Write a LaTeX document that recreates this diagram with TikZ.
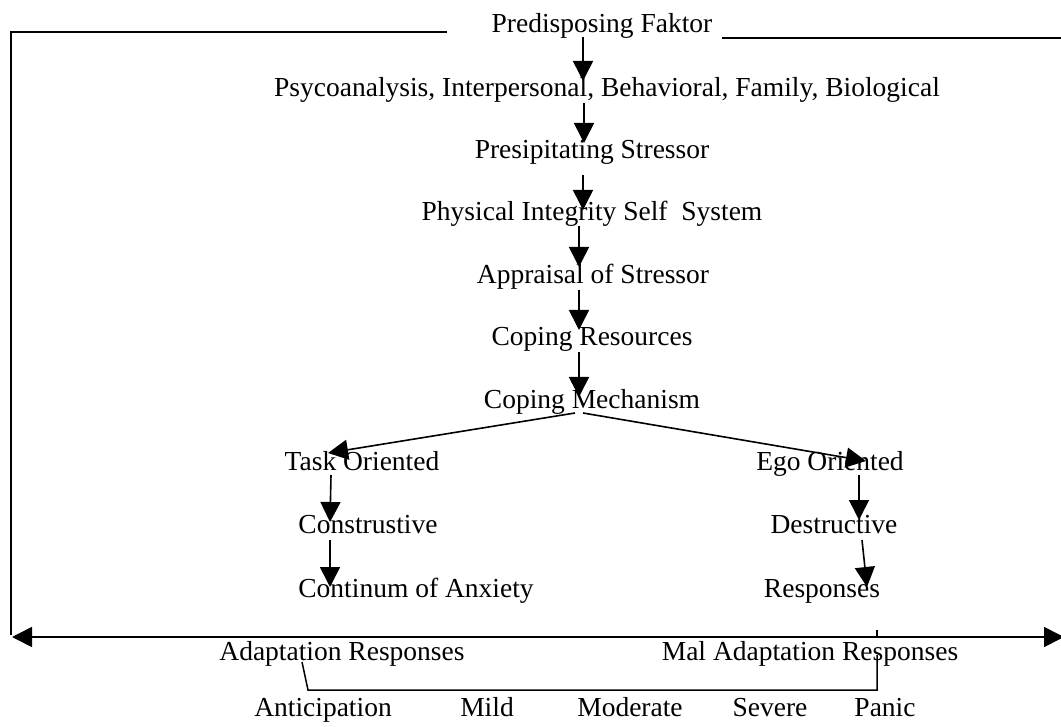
\documentclass[tikz,border=0pt]{standalone}
\usepackage{fontspec}
\setmainfont{Liberation Serif}
\usetikzlibrary{arrows.meta}
\tikzset{
  lbl/.style={anchor=base, inner sep=0pt, font=\fontsize{27.5}{33}\selectfont},
  arr/.style={line width=1.6pt, -{Triangle[width=20pt,length=20pt]}},
  ln/.style={line width=1.5pt},
  dbl/.style={line width=1.6pt, {Triangle[width=20pt,length=20pt]}-{Triangle[width=20pt,length=20pt]}}
}
\begin{document}
\begin{tikzpicture}[x=1pt,y=-1pt]
\useasboundingbox (0,0) rectangle (1061,727);
% nodes
\node[lbl] (pf)   at (602,33)  {Predisposing Faktor};
\node[lbl] (psy)  at (607,97)  {Psycoanalysis, Interpersonal, Behavioral, Family, Biological};
\node[lbl] (pre)  at (592,159) {Presipitating Stressor};
\node[lbl] (phy)  at (592,221) {Physical Integrity Self \ System};
\node[lbl] (app)  at (593,284) {Appraisal of Stressor};
\node[lbl] (cr)   at (592,346) {Coping Resources};
\node[lbl] (cm)   at (592,409) {Coping Mechanism};
\node[lbl] (task) at (362,470) {Task Oriented};
\node[lbl] (ego)  at (830,470) {Ego Oriented};
\node[lbl] (con)  at (368,533) {Construstive};
\node[lbl] (des)  at (834,533) {Destructive};
\node[lbl] (anx)  at (416,597) {Continum of Anxiety};
\node[lbl] (res)  at (822,597) {Responses};
\node[lbl] (ad)   at (342,660) {Adaptation Responses};
\node[lbl] (mal)  at (810,660) {Mal Adaptation Responses};
\node[lbl] (an1)  at (323,716) {Anticipation};
\node[lbl] (mild) at (487,716) {Mild};
\node[lbl] (mod)  at (630,716) {Moderate};
\node[lbl] (sev)  at (770,716) {Severe};
\node[lbl] (pan)  at (885,716) {Panic};
% frame coordinates
\coordinate (tlA) at (447,32);
\coordinate (tl)  at (11,32);
\coordinate (bl)  at (11,635);
\coordinate (trA) at (722,38);
\coordinate (trB) at (1061,38);
\coordinate (barL) at (12,637);
\coordinate (barR) at (1064,637);
\coordinate (tickT) at (877,630);
\coordinate (tickB) at (877,637);
\coordinate (brA) at (302,662);
\coordinate (brB) at (308,690);
\coordinate (brC) at (877,690);
\coordinate (brD) at (877,655);
% frame
\draw[ln] (tlA) -- (tl) -- (bl);
\draw[ln] (trA) -- (trB);
\draw[dbl] (barL) -- (barR);
\draw[ln] (tickT) -- (tickB);
\draw[ln] (brA) -- (brB) -- (brC) -- (brD);
% chain arrows
\draw[arr] ([xshift=-19pt,yshift=-4pt]pf.base) -- ([xshift=-24pt,yshift=16pt]psy.base);
\draw[arr] ([xshift=-23pt,yshift=-6pt]psy.base) -- ([xshift=-8pt,yshift=16pt]pre.base);
\draw[arr] ([xshift=-9pt,yshift=-16pt]pre.base) -- ([xshift=-9pt,yshift=11pt]phy.base);
\draw[arr] ([xshift=-13pt,yshift=-5pt]phy.base) -- ([xshift=-14pt,yshift=17pt]app.base);
\draw[arr] ([xshift=-14pt,yshift=-6pt]app.base) -- ([xshift=-13pt,yshift=16pt]cr.base);
\draw[arr] ([xshift=-13pt,yshift=-6pt]cr.base) -- ([xshift=-13pt,yshift=12pt]cm.base);
% branches
\draw[arr] ([xshift=-17pt,yshift=-4pt]cm.base) -- ([xshift=-34pt,yshift=17pt]task.base);
\draw[arr] ([xshift=-9pt,yshift=-4pt]cm.base) -- ([xshift=36pt,yshift=9pt]ego.base);
\draw[arr] ([xshift=-31pt,yshift=-5pt]task.base) -- ([xshift=-38pt,yshift=11pt]con.base);
\draw[arr] ([xshift=-38pt,yshift=-7pt]con.base) -- ([xshift=-86pt,yshift=10pt]anx.base);
\draw[arr] ([xshift=29pt,yshift=-5pt]ego.base) -- ([xshift=25pt,yshift=13pt]des.base);
\draw[arr] ([xshift=28pt,yshift=-7pt]des.base) -- ([xshift=45pt,yshift=10pt]res.base);
\end{tikzpicture}
\end{document}
